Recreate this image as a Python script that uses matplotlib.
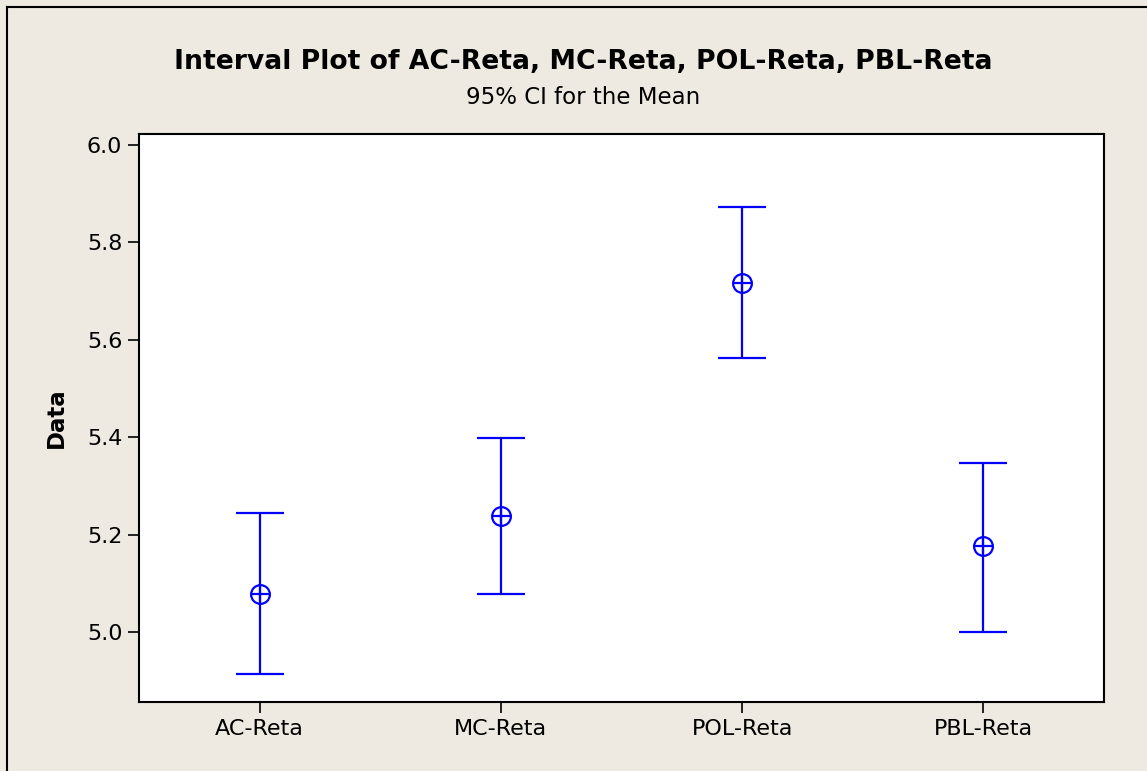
import matplotlib
matplotlib.use("Agg")
import matplotlib.pyplot as plt
from matplotlib.lines import Line2D

categories = ["AC-Reta", "MC-Reta", "POL-Reta", "PBL-Reta"]
means = [5.077, 5.237, 5.717, 5.176]
lower = [4.914, 5.077, 5.563, 5.000]
upper = [5.245, 5.398, 5.872, 5.347]
yticks = [5.0, 5.2, 5.4, 5.6, 5.8, 6.0]

bg = "#EEEAE1"
blue = "#0000FF"

fig = plt.figure(figsize=(11.47, 7.71), dpi=100, facecolor=bg)
ax = fig.add_axes([139/1147, 1 - 702/771, (1104-139)/1147, (702-134)/771])
ax.set_facecolor("white")

x = list(range(len(categories)))
err_lo = [m - l for m, l in zip(means, lower)]
err_hi = [u - m for m, u in zip(means, upper)]
ax.errorbar(x, means, yerr=[err_lo, err_hi], fmt="none", ecolor=blue,
            elinewidth=1.6, capsize=17.6, capthick=1.6)
ax.plot(x, means, linestyle="none", marker="o", markersize=13.5,
        markerfacecolor="none", markeredgecolor=blue, markeredgewidth=1.6)
ax.plot(x, means, linestyle="none", marker="+", markersize=13.5,
        color=blue, markeredgewidth=1.6)

ax.set_xlim(-0.5, 3.5)
ax.set_ylim(4.856, 6.0226)
ax.set_xticks(x)
ax.set_xticklabels(categories)
ax.set_yticks(yticks)
ax.set_yticklabels([f"{v:.1f}" for v in yticks])
ax.tick_params(axis="both", direction="out", length=8, width=1.2,
               labelsize=16, colors="black", pad=4)
for s in ax.spines.values():
    s.set_linewidth(1.5)
    s.set_color("black")
ax.set_ylabel("Data", fontsize=16.5, fontweight="bold", labelpad=14)

fig.text(583/1147, 1 - 62/771, "Interval Plot of AC-Reta, MC-Reta, POL-Reta, PBL-Reta",
         ha="center", va="center", fontsize=19.2, fontweight="bold")
fig.text(583/1147, 1 - 97/771, "95% CI for the Mean", ha="center", va="center", fontsize=16.5)

# outer frame (left and top edges visible)
fig.add_artist(Line2D([7.5/1147, 7.5/1147], [0, 1 - 6.5/771], transform=fig.transFigure,
                      color="black", linewidth=1.5))
fig.add_artist(Line2D([7.5/1147, 1], [1 - 6.5/771, 1 - 6.5/771], transform=fig.transFigure,
                      color="black", linewidth=1.5))

fig.savefig("out.png", dpi=100, facecolor=bg)
